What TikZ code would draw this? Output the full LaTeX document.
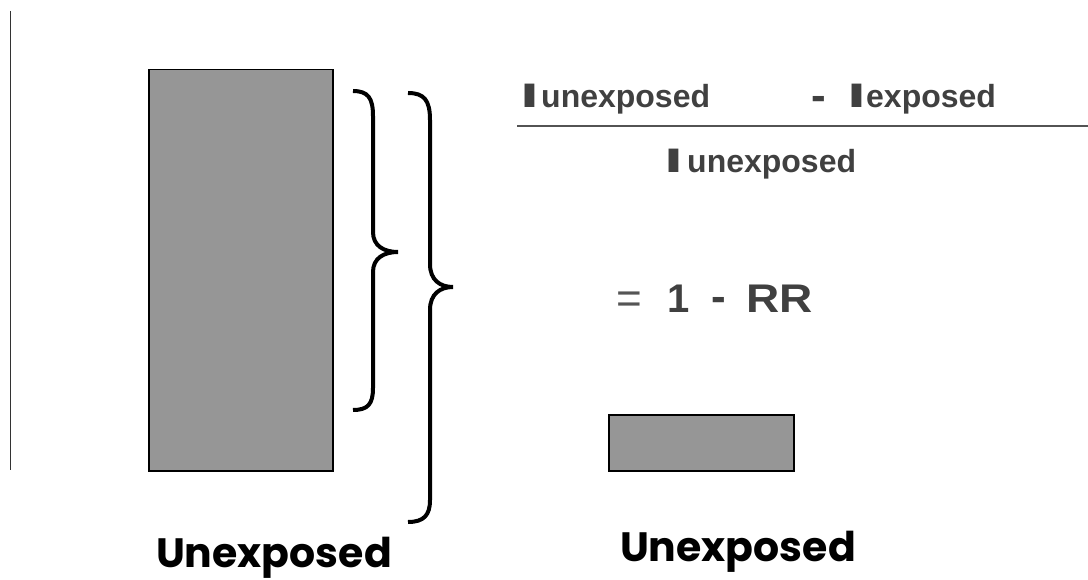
\documentclass[tikz,border=0pt]{standalone}
\usepackage{fontspec}
\setmainfont{Liberation Sans}
\newfontfamily\geo{Poppins}
\usepackage{graphicx}
\definecolor{txtgray}{HTML}{404040}
\definecolor{eqgray}{HTML}{555555}
\definecolor{boxfill}{HTML}{969696}
\begin{document}
\begin{tikzpicture}[x=1pt,y=-1pt,
  bar/.style={draw=black, line width=1.5pt, fill=boxfill, inner sep=0pt, anchor=north west},
  brace/.style={draw=black, line width=4pt},
  fracsub/.style={inner sep=0pt, anchor=base west, text=txtgray, font=\fontsize{32}{36}\selectfont\bfseries},
  bigI/.style={inner sep=0pt, anchor=base west, text=txtgray, font=\fontsize{34}{36}\selectfont\bfseries},
  eqpart/.style={inner sep=0pt, anchor=base, text=txtgray, font=\fontsize{40}{44}\selectfont\bfseries},
  dashpart/.style={inner sep=0pt, anchor=base, text=txtgray, font=\fontsize{44}{48}\selectfont\bfseries},
  caption/.style={inner sep=0pt, anchor=base, font=\geo\fontsize{41}{45}\selectfont\bfseries}]
\useasboundingbox (0,0) rectangle (1088,580);

% thin rule at the left margin
\coordinate (railtop) at (10.5,11);
\coordinate (railbot) at (10.5,470);
\draw[line width=1.3pt, draw=black!80] (railtop) -- (railbot);

% the two bars
\node[bar, minimum width=184pt, minimum height=401pt] (tall) at (148,69) {};
\node[bar, minimum width=185pt, minimum height=56pt] (short) at (608,414) {};

% inner brace
\draw[brace] (353,91) .. controls (368,91) and (373,98) .. (373,116)
  -- (373,232) .. controls (373,246) and (384,252) .. (398,252)
  .. controls (384,252) and (373,258) .. (373,272)
  -- (373,388) .. controls (373,404) and (368,410) .. (353,410);
% outer brace
\draw[brace] (408,93) .. controls (424,93) and (430,100) .. (430,120)
  -- (430,264) .. controls (430,280) and (440,287) .. (453,287)
  .. controls (440,287) and (430,294) .. (430,310)
  -- (430,500) .. controls (430,515) and (424,522) .. (408,522);

% numerator
\node[bigI] (nI1) at (520,108) {\scalebox{2}[1]{I}};
\node[fracsub] (nU) at (541,108) {unexposed};
\node[dashpart] (nMinus) at (818.5,111) {-};
\node[bigI] (nI2) at (847,108) {\scalebox{2}[1]{I}};
\node[fracsub] (nE) at (866,108) {exposed};

% fraction bar
\coordinate (barL) at (517,126.5);
\coordinate (barR) at (1088,126.5);
\draw[line width=2pt, draw=txtgray!90] (barL) -- (barR);

% denominator
\node[bigI] (dI) at (664,173) {\scalebox{2}[1]{I}};
\node[fracsub] (dU) at (687,173) {unexposed};

% = 1 - RR
\node[inner sep=0pt, anchor=base, text=eqgray, font=\fontsize{44}{48}\selectfont] (eq) at (629.5,314) {=};
\node[eqpart] (one) at (679,313) {1};
\node[dashpart] (minus) at (719,312) {-};
\node[eqpart] (rr) at (780,313) {\scalebox{1.15}[1]{RR}};

% captions
\node[caption] (capL) at (274,567) {Unexposed};
\node[caption] (capR) at (738,561) {Unexposed};
\end{tikzpicture}
\end{document}
